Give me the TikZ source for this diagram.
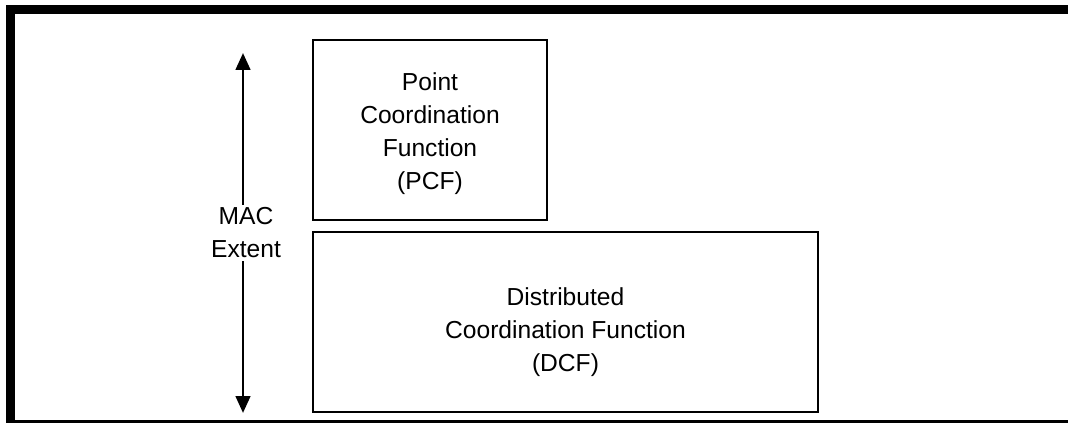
\documentclass[tikz,border=0pt]{standalone}
\usepackage{fontspec}
\setmainfont{Liberation Sans}
\usepackage{tikz}
\usetikzlibrary{positioning, arrows.meta}

\begin{document}
\begin{tikzpicture}[
	box/.style={draw, line width=1.7pt, minimum width=5.85cm, minimum height=4.5cm, outer sep=0pt},
	every node/.style={font=\fontsize{17.5}{23.5}\selectfont},
	extent/.style={line width=2pt, -{Triangle[length=0.42cm, width=0.36cm]}},
	]
	\useasboundingbox (0,0) rectangle (26.7,10.575);
	% frame, open on the right
	\draw[line width=0.23cm] (27,10.34) -- (0.26,10.34) -- (0.26,-0.04) -- (27,-0.04);
	
	\node[box, label={[align=center, yshift=-0.1cm]center:Point \\ Coordination \\ Function \\ (PCF)}] (PCF) at (10.75,7.325) {};
	\node[box, minimum width=12.625cm, below=0.3cm of PCF.south west, anchor=north west, label={[align=center, yshift=-0.25cm]center:Distributed \\ Coordination Function \\ (DCF)}] (DCF) {};
	
	\node[align=center, inner sep=2pt] (MAC) at (6.15,4.75) {MAC \\ Extent};
	\coordinate (top) at (6.075,9.25);
	\coordinate (bottom) at (6.075,0.25);
	\draw[extent] (MAC.north -| top) -- (top);
	\draw[extent] (MAC.south -| bottom) -- (bottom);
\end{tikzpicture}
\end{document}
